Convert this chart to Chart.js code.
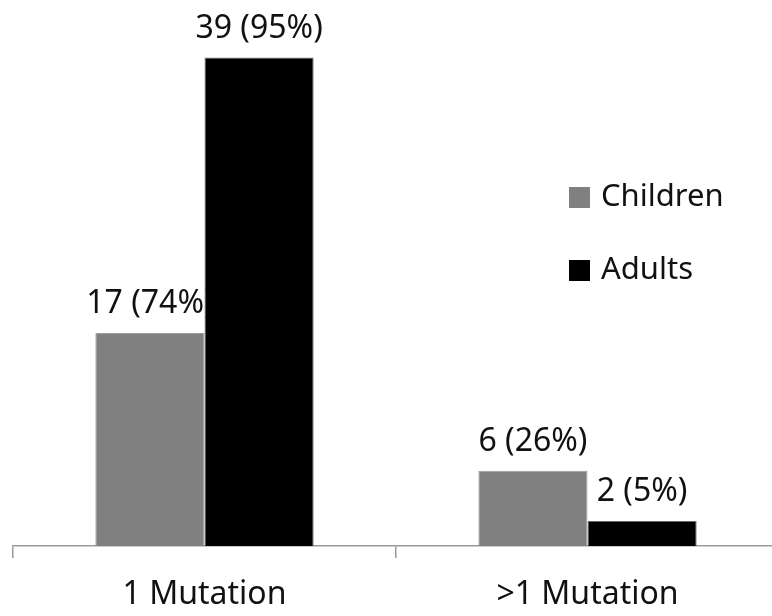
<!DOCTYPE html>
<html>
<head>
<meta charset="utf-8">
<script src="https://cdn.jsdelivr.net/npm/chart.js@4"></script>
<style>
  html, body { margin: 0; padding: 0; background: #fff; overflow: hidden; }
</style>
</head>
<body>
<!-- canvas is a few px wider than the window: the right axis end runs off the edge as in the original -->
<canvas id="myChart" width="779" height="616"></canvas>
<script>
const categories = ["1 Mutation", ">1 Mutation"];
const seriesNames = ["Children", "Adults"];
const childrenCounts = [17, 6];
const adultsCounts = [39, 2];
const childrenPct = [74, 26];
const adultsPct = [95, 5];
const percents = [childrenPct, adultsPct];

const fontFamily = "'Noto Sans', 'Open Sans', sans-serif";

// value labels drawn before the bars, so the adults bar covers the end of "17 (74%)"
const barLabels = {
  id: "barLabels",
  beforeDatasetsDraw(chart) {
    const ctx = chart.ctx;
    ctx.save();
    ctx.font = "32px " + fontFamily;
    ctx.fillStyle = "#111";
    ctx.textAlign = "center";
    ctx.textBaseline = "middle";
    chart.data.datasets.forEach((ds, d) => {
      chart.getDatasetMeta(d).data.forEach((bar, i) => {
        ctx.fillText(ds.data[i] + " (" + percents[d][i] + "%)", bar.x, bar.y - 29);
      });
    });
    ctx.restore();
  }
};

// legend sits inside the plot area on the right
const insideLegend = {
  id: "insideLegend",
  afterDraw(chart) {
    const ctx = chart.ctx;
    ctx.save();
    ctx.font = "31px " + fontFamily;
    ctx.textBaseline = "middle";
    ctx.textAlign = "left";
    chart.data.datasets.forEach((ds, i) => {
      const y = 197 + i * 73;
      ctx.fillStyle = ds.backgroundColor;
      ctx.fillRect(569, y - 10, 21, 21);
      ctx.fillStyle = "#111";
      ctx.fillText(ds.label, 601, y);
    });
    ctx.restore();
  }
};

const ctx = document.getElementById("myChart");
const myChart = new Chart(ctx, {
  type: "bar",
  data: {
    labels: categories,
    datasets: [
      {
        label: seriesNames[0],
        data: childrenCounts,
        backgroundColor: "#808080",
        borderColor: "#9c9c9c",
        borderWidth: 1,
        categoryPercentage: 0.57,
        barPercentage: 1,
      },
      {
        label: seriesNames[1],
        data: adultsCounts,
        backgroundColor: "#000000",
        borderColor: "#6a6a6a",
        borderWidth: 1,
        categoryPercentage: 0.57,
        barPercentage: 1,
      },
    ],
  },
  options: {
    responsive: false,
    animation: false,
    layout: { padding: { top: 20, left: 13, right: 0, bottom: 0 } },
    plugins: {
      legend: { display: false },
      tooltip: { enabled: false },
    },
    scales: {
      x: {
        offset: true,
        grid: {
          display: true,
          offset: true,
          drawOnChartArea: false,
          drawTicks: true,
          tickLength: 12,
          tickColor: "#9a9a9a",
          lineWidth: 1.5,
        },
        border: { display: true, color: "#9a9a9a", width: 1.5 },
        ticks: {
          font: { family: fontFamily, size: 32 },
          color: "#111",
          padding: 18,
        },
        afterFit(scale) {
          scale.height = 70;
        },
      },
      y: {
        display: false,
        min: 0,
        max: 42,
      },
    },
  },
  plugins: [barLabels, insideLegend],
});
</script>
</body>
</html>
